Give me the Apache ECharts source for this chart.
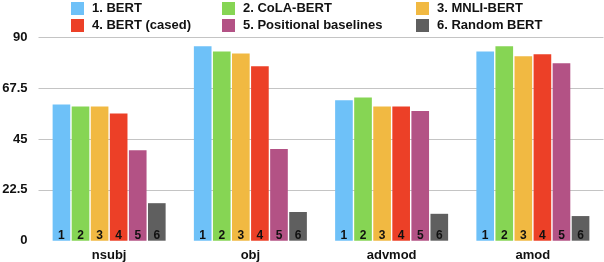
<!DOCTYPE html>
<html>
<head>
<meta charset="utf-8">
<script src="https://cdn.jsdelivr.net/npm/echarts@6/dist/echarts.min.js"></script>
<style>html,body{margin:0;padding:0;background:#fff}#c{width:604px;height:262px}</style>
</head>
<body>
<div id="c"></div>
<script>
const categories = ['nsubj', 'obj', 'advmod', 'amod'];
const seriesNames = ['1. BERT', '2. CoLA-BERT', '3. MNLI-BERT', '4. BERT (cased)', '5. Positional baselines', '6. Random BERT'];
const barLabels = ['1', '2', '3', '4', '5', '6'];
const bert = [60.3, 86.0, 62.1, 83.7];
const colaBert = [59.4, 83.7, 63.4, 86.0];
const mnliBert = [59.4, 82.8, 59.4, 81.6];
const bertCased = [56.3, 77.2, 59.4, 82.5];
const positional = [40.0, 40.6, 57.4, 78.5];
const randomBert = [16.6, 12.7, 11.9, 10.9];
const yTicks = [0, 22.5, 45, 67.5, 90];

const values = [bert, colaBert, mnliBert, bertCased, positional, randomBert];
const colors = ['#6EC1F8', '#86D554', '#F1B942', '#EC4027', '#B35285', '#5F5F5F'];
const legendPos = [[71, 2], [222, 2], [416, 2], [71, 19], [222, 19], [416, 19]];
const FONT = '"Liberation Sans", Arial, Helvetica, sans-serif';

const chart = echarts.init(document.getElementById('c'), null, {renderer: 'canvas'});
chart.setOption({
  animation: false,
  textStyle: {fontFamily: FONT},
  legend: seriesNames.map((n, i) => ({
    data: [n],
    left: legendPos[i][0],
    top: legendPos[i][1],
    padding: 0,
    itemWidth: 13,
    itemHeight: 13,
    icon: 'rect',
    selectedMode: false,
    textStyle: {fontSize: 13, fontWeight: 'bold', color: '#111', fontFamily: FONT, padding: [0, 0, 0, 3]}
  })),
  grid: {left: 38.5, right: 0.5, top: 37.3, bottom: 21.3, outerBoundsMode: 'none', containLabel: false},
  xAxis: {
    type: 'category',
    data: categories,
    axisLine: {show: false},
    axisTick: {show: false},
    axisLabel: {fontSize: 13, fontWeight: 'bold', color: '#111', margin: 8, fontFamily: FONT}
  },
  yAxis: {
    type: 'value',
    min: yTicks[0],
    max: yTicks[yTicks.length - 1],
    interval: yTicks[1] - yTicks[0],
    axisLine: {show: false},
    axisTick: {show: false},
    axisLabel: {fontSize: 13, fontWeight: 'bold', color: '#111', margin: 11, fontFamily: FONT},
    splitLine: {show: true, showMinLine: false, lineStyle: {color: '#C4C4C4', width: 1}}
  },
  series: seriesNames.map((n, i) => ({
    name: n,
    type: 'bar',
    data: values[i],
    barCategoryGap: '20%',
    barGap: '8%',
    itemStyle: {color: colors[i]},
    label: {
      show: true,
      position: 'insideBottom',
      distance: -1,
      formatter: () => barLabels[i],
      fontSize: 12,
      fontWeight: 'bold',
      color: '#111',
      fontFamily: FONT
    }
  }))
});
</script>
</body>
</html>
